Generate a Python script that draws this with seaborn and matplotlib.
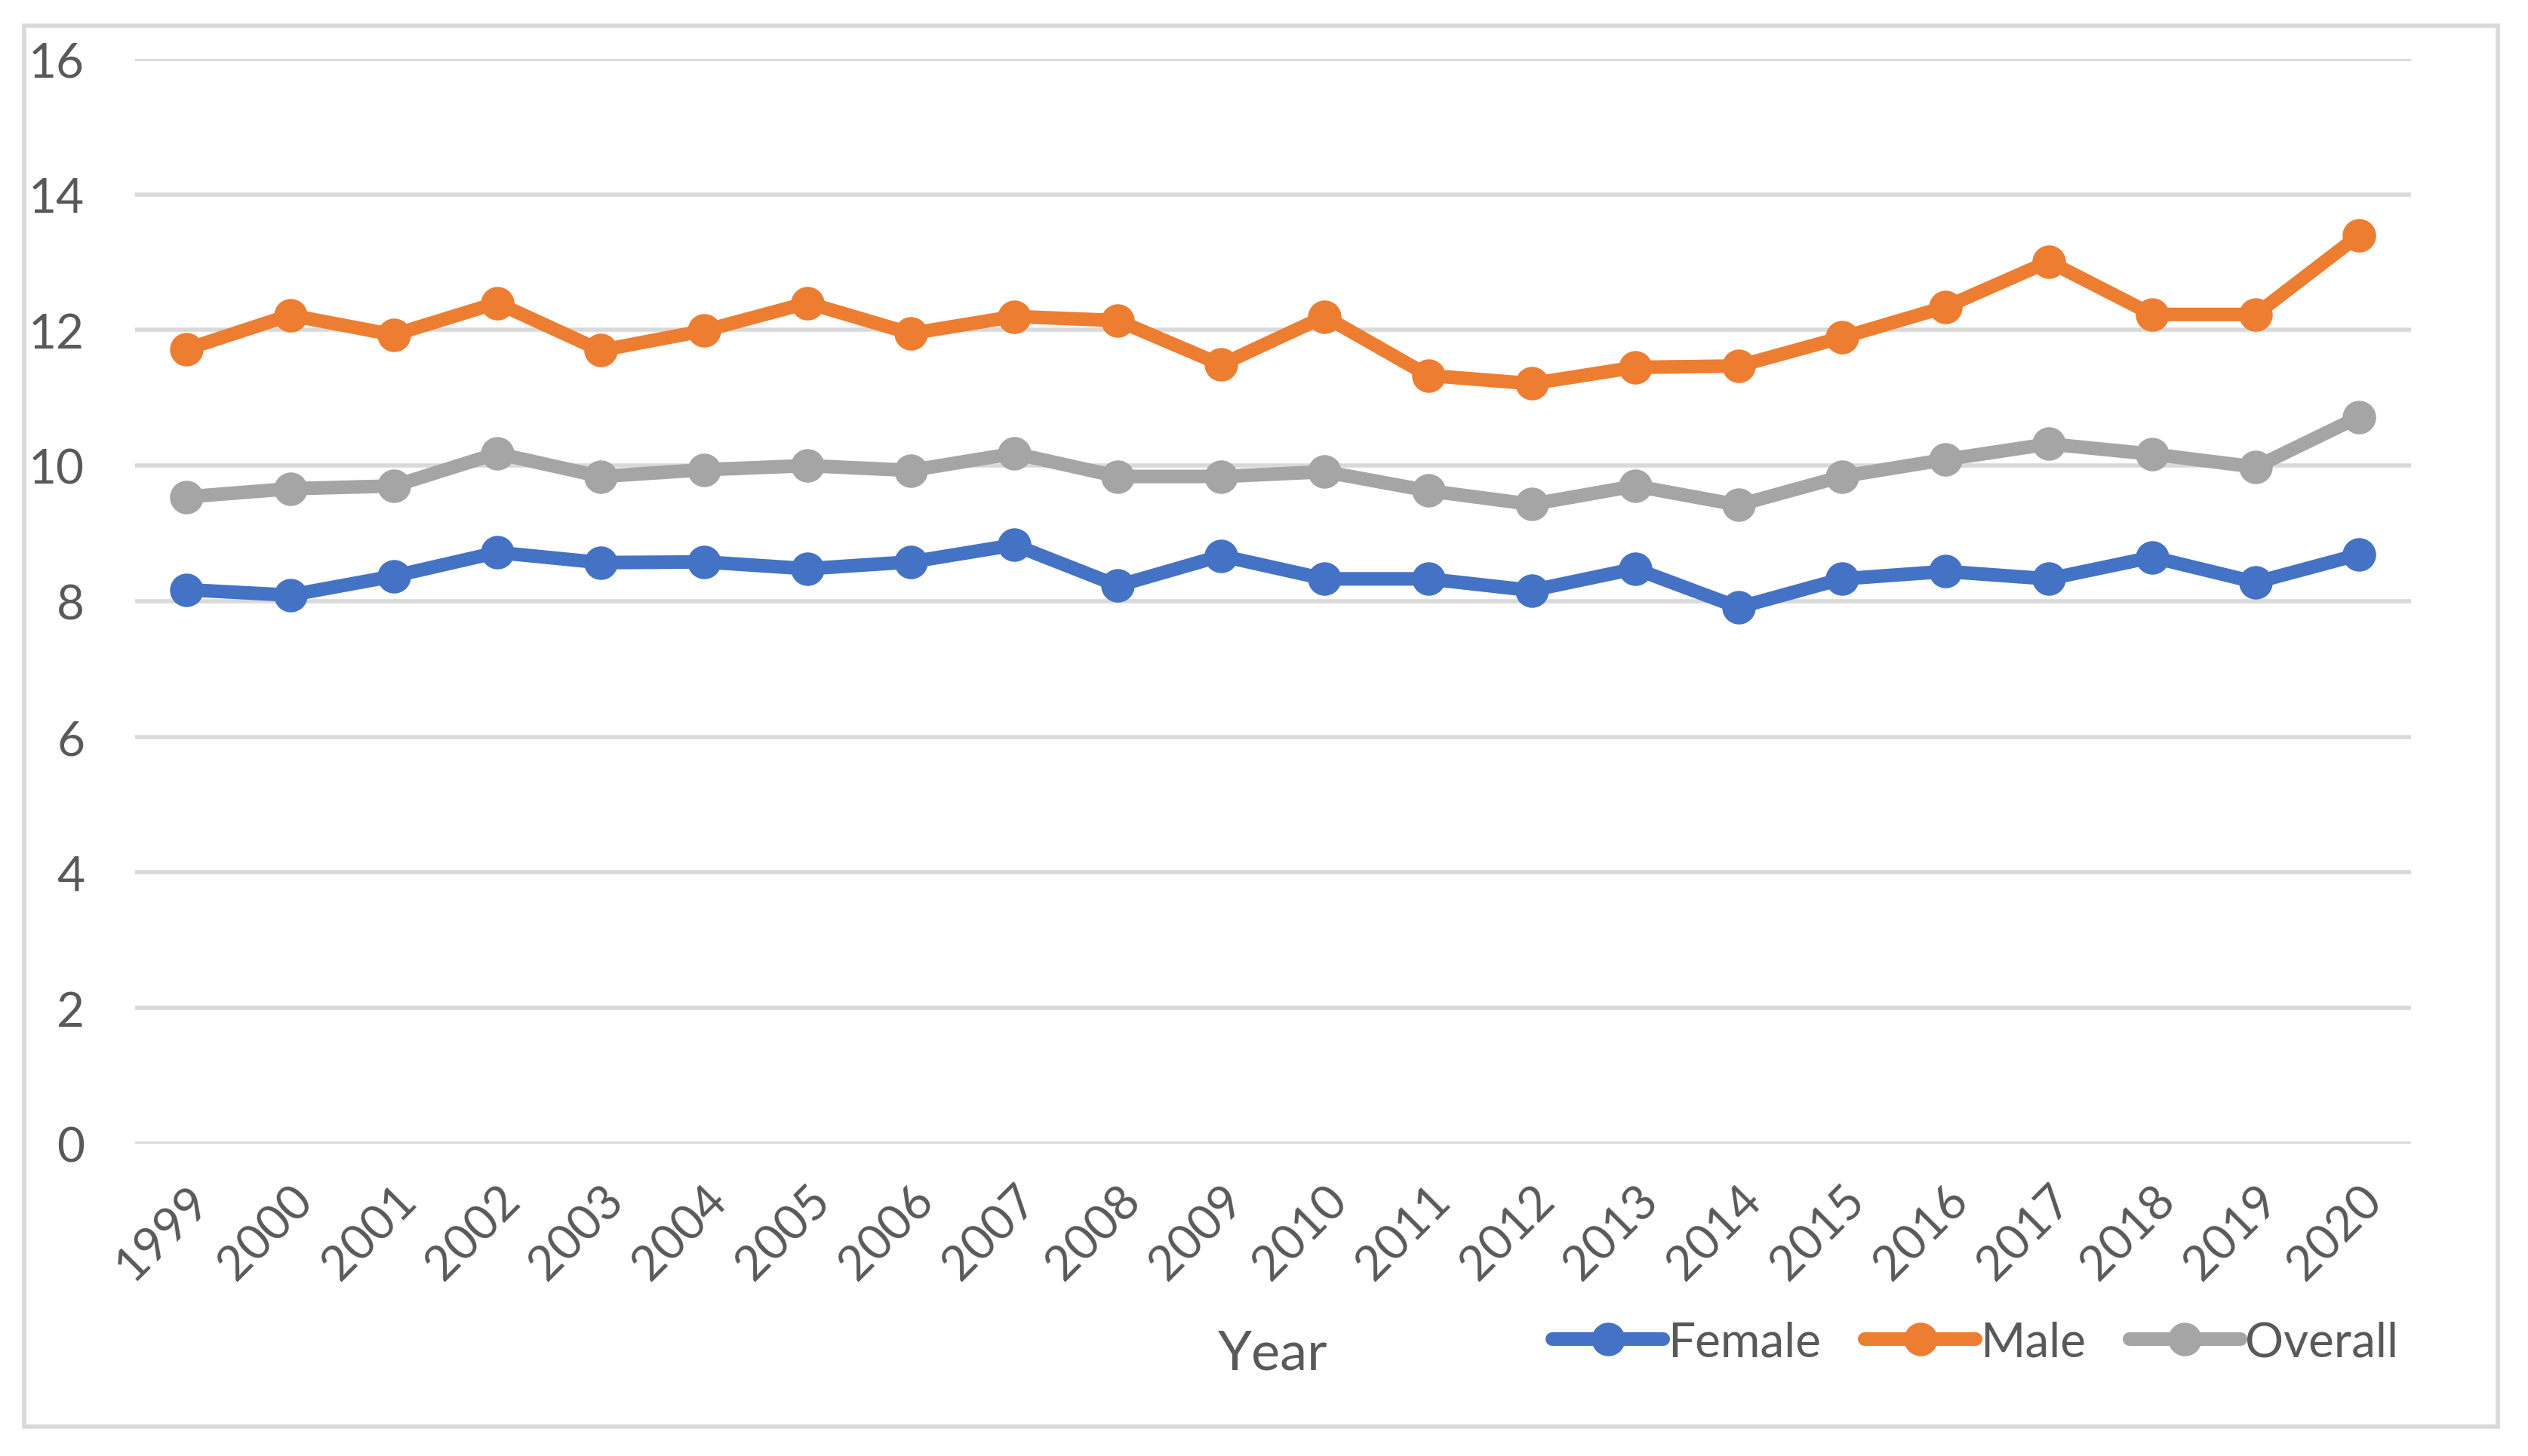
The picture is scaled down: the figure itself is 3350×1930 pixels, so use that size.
import pandas as pd
import matplotlib
matplotlib.use("Agg")
import matplotlib.pyplot as plt
from matplotlib.patches import Rectangle
import seaborn as sns

years = [str(y) for y in range(1999, 2021)]
female = [8.17, 8.09, 8.37, 8.72, 8.57, 8.58, 8.48, 8.58, 8.83, 8.23, 8.67,
          8.33, 8.33, 8.16, 8.48, 7.91, 8.33, 8.44, 8.33, 8.65, 8.28, 8.69]
male = [11.72, 12.22, 11.93, 12.40, 11.70, 11.99, 12.40, 11.95, 12.20, 12.14, 11.49,
        12.20, 11.33, 11.21, 11.45, 11.47, 11.89, 12.34, 13.01, 12.23, 12.23, 13.40]
overall = [9.54, 9.66, 9.70, 10.18, 9.84, 9.94, 10.00, 9.93, 10.18, 9.84, 9.84,
           9.91, 9.63, 9.43, 9.70, 9.42, 9.84, 10.09, 10.32, 10.17, 9.98, 10.72]

series = ["Female", "Male", "Overall"]
colors = ["#4472C4", "#ED7D31", "#A5A5A5"]

df = pd.DataFrame({"Year": years * 3,
                   "Value": female + male + overall,
                   "Series": [s for s in series for _ in years]})

sns.set_style("white")
plt.rcParams['font.family'] = ['Lato', 'DejaVu Sans']
text_col = "#595959"

fig = plt.figure(figsize=(16.75, 9.655), dpi=200)
ax = fig.add_axes([0.0534, 0.2144, 0.9003, 0.7447])

sns.lineplot(data=df, x="Year", y="Value", hue="Series", palette=colors,
             marker="o", markersize=16, markeredgewidth=0, linewidth=6.5,
             sort=False, ax=ax)

ax.set_xlim(-0.5, len(years) - 0.5)
ax.set_ylim(0, 16)
ax.set_yticks(range(0, 17, 2))
ax.yaxis.grid(True, color="#D9D9D9", linewidth=2)
ax.xaxis.grid(False)
for s in ax.spines.values():
    s.set_visible(False)
ax.tick_params(axis="y", length=0, pad=24, labelsize=23, labelcolor=text_col)
ax.tick_params(axis="x", length=0, pad=16, labelsize=23, labelcolor=text_col)
for lab in ax.get_xticklabels():
    lab.set_rotation(45)
    lab.set_ha("right")
    lab.set_rotation_mode("anchor")

ax.set_ylabel("")
ax.set_xlabel("Year", fontsize=26, color=text_col, labelpad=20)

leg = ax.legend(loc="upper right", bbox_to_anchor=(1.003, -0.145), ncol=3,
                frameon=False, fontsize=23, handlelength=2.3,
                handletextpad=0.1, columnspacing=0.9, borderaxespad=0)
for t in leg.get_texts():
    t.set_color(text_col)

fig.patches.append(Rectangle((0.0096, 0.0202), 0.9784, 0.9618,
                             transform=fig.transFigure, fill=False,
                             edgecolor="#D9D9D9", linewidth=2))

fig.savefig("out.png", dpi=200, facecolor="white")
